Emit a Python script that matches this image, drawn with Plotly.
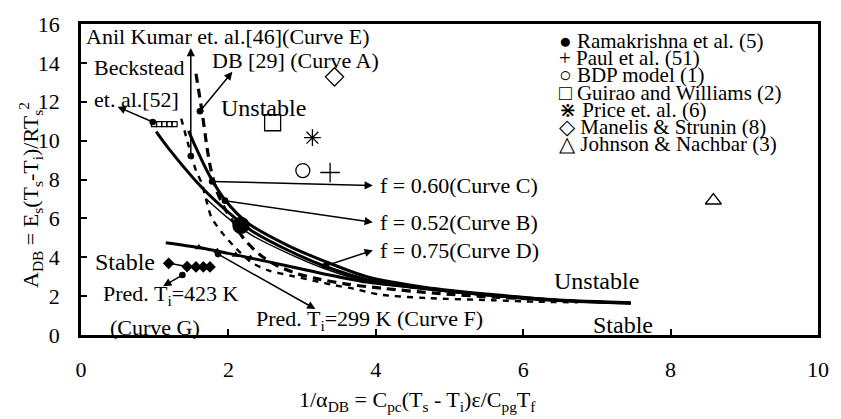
import plotly.graph_objects as go

# ---------------- data ----------------
# Curve A : DB [29] (thick dashed)
curve_a_x = [1.56, 1.64, 1.71, 1.76, 1.84, 1.95, 2.07, 2.20, 2.42, 2.67, 2.94, 3.20, 3.60, 4.10, 4.80, 5.60, 6.40]
curve_a_y = [13.44, 11.54, 9.64, 8.56, 7.44, 6.51, 5.79, 5.00, 4.15, 3.55, 3.15, 2.90, 2.62, 2.40, 2.15, 1.95, 1.80]
# Curve E : Anil Kumar et al. [46] (dashed)
curve_e_x = [1.36, 1.46, 1.56, 1.64, 1.69, 1.77, 1.91, 2.09, 2.31, 2.54, 2.85, 3.15, 3.44, 3.70, 4.05, 4.70, 5.58, 6.20, 6.74]
curve_e_y = [11.13, 9.74, 8.46, 7.79, 7.08, 6.05, 5.28, 4.51, 3.74, 3.33, 3.05, 2.80, 2.56, 2.38, 2.08, 1.90, 1.79, 1.71, 1.68]
# Curve C : f = 0.60
curve_c_x = [1.46, 1.54, 1.73, 1.96, 2.27, 2.81, 3.30, 3.88, 4.68, 5.58, 6.47, 7.46]
curve_c_y = [10.50, 9.80, 8.30, 6.92, 5.74, 4.60, 3.80, 3.00, 2.45, 2.08, 1.80, 1.66]
# Curve B : f = 0.52
curve_b_x = [1.02, 1.19, 1.64, 2.00, 2.31, 2.81, 3.30, 3.88, 4.68, 5.58, 6.47, 7.46]
curve_b_y = [10.46, 9.59, 7.59, 6.31, 5.38, 4.36, 3.55, 2.85, 2.41, 2.05, 1.79, 1.64]
# Curve D : f = 0.75
curve_d_x = [1.70, 2.00, 2.31, 2.81, 3.30, 3.88, 4.68, 5.58, 6.47, 7.46]
curve_d_y = [7.00, 6.00, 5.15, 4.20, 3.42, 2.75, 2.35, 2.00, 1.76, 1.62]
# Curve F : Pred. Ti = 299 K
curve_f_x = [1.15, 1.60, 2.00, 2.50, 3.07, 3.88, 4.68, 5.58, 6.47, 7.46]
curve_f_y = [4.75, 4.50, 4.20, 3.80, 3.33, 2.72, 2.38, 2.03, 1.77, 1.63]
curve_f_mark_x = [1.60, 1.85, 2.10, 2.30]
curve_f_mark_y = [4.50, 4.31, 4.12, 3.96]
# Curve G : Pred. Ti = 423 K
curve_g_x = [1.19, 1.44, 1.56, 1.66, 1.75]
curve_g_y = [3.69, 3.52, 3.50, 3.50, 3.50]
# Beckstead et al. [52]
beckstead_x = [0.99, 1.06, 1.13, 1.20, 1.27]
beckstead_y = [10.85, 10.85, 10.85, 10.85, 10.85]

# experimental / model points
ramakrishna_x, ramakrishna_y = [2.17], [5.64]
paul_x, paul_y = [3.38], [8.36]
bdp_x, bdp_y = [3.01], [8.46]
guirao_x, guirao_y = [2.60], [10.92]
price_x, price_y = [3.14], [10.15]
manelis_x, manelis_y = [3.44], [13.28]
johnson_x, johnson_y = [8.58], [6.92]

legend_labels = ["Ramakrishna et al. (5)", "Paul et al. (51)", "BDP model (1)",
                 "Guirao and Williams (2)", "Price et. al. (6)", "Manelis & Strunin (8)",
                 "Johnson & Nachbar (3)"]
legend_glyphs = ["●", "+", "○", "□", "⋇", "◇", "△"]

x_ticks = [0, 2, 4, 6, 8, 10]
y_ticks = [0, 2, 4, 6, 8, 10, 12, 14, 16]

# ---------------- figure ----------------
FONT = "Liberation Serif"
BLACK = "#000000"
L, R, T, B = 81, 15, 23, 84
W, H = 841, 419
XR, YR = (0, 10), (0, 16)
PW, PH = W - L - R, H - T - B


def px2x(px):
    return XR[0] + (px - L) / PW * (XR[1] - XR[0])


def px2y(py):
    return YR[0] + (T + PH - py) / PH * (YR[1] - YR[0])


fig = go.Figure()


def line_trace(x, y, width, dash="solid", shape="spline"):
    fig.add_trace(go.Scatter(x=x, y=y, mode="lines", showlegend=False, hoverinfo="skip",
                             line=dict(color=BLACK, width=width, dash=dash, shape=shape,
                                       smoothing=0.8)))


line_trace(curve_a_x, curve_a_y, 3.2, dash="9px,6px")
line_trace(curve_e_x, curve_e_y, 2.4, dash="6px,6px")
line_trace(curve_c_x, curve_c_y, 3.0)
line_trace(curve_b_x, curve_b_y, 3.0)
line_trace(curve_d_x, curve_d_y, 1.4)
line_trace(curve_f_x, curve_f_y, 3.0)

fig.add_trace(go.Scatter(x=curve_f_mark_x, y=curve_f_mark_y, mode="markers", showlegend=False,
                         marker=dict(symbol="triangle-up", size=7, color=BLACK)))
fig.add_trace(go.Scatter(x=curve_g_x, y=curve_g_y, mode="lines+markers", showlegend=False,
                         line=dict(color=BLACK, width=1.5),
                         marker=dict(symbol="diamond", size=9, color=BLACK)))
fig.add_trace(go.Scatter(x=beckstead_x, y=beckstead_y, mode="markers", showlegend=False,
                         marker=dict(symbol="square-open", size=5, color=BLACK,
                                     line=dict(width=1.2, color=BLACK))))


def point_trace(x, y, name, symbol, size):
    fig.add_trace(go.Scatter(x=x, y=y, mode="markers", name=name, showlegend=False,
                             marker=dict(symbol=symbol, size=size, color=BLACK,
                                         line=dict(width=1.3, color=BLACK))))


point_trace(ramakrishna_x, ramakrishna_y, legend_labels[0], "circle", 16)
point_trace(paul_x, paul_y, legend_labels[1], "cross-thin-open", 14)
point_trace(bdp_x, bdp_y, legend_labels[2], "circle-open", 14)
point_trace(guirao_x, guirao_y, legend_labels[3], "square-open", 16)
point_trace(price_x, price_y, legend_labels[4], "asterisk-open", 14)
point_trace(manelis_x, manelis_y, legend_labels[5], "diamond-open", 14)
point_trace(johnson_x, johnson_y, legend_labels[6], "triangle-up-open", 14)

annotations = []


def label(text, px, py, size=22, anchor="left"):
    annotations.append(dict(x=px2x(px), y=px2y(py), xref="x", yref="y", text=text,
                            showarrow=False, xanchor=anchor, yanchor="middle",
                            font=dict(family=FONT, size=size, color=BLACK)))


label("Anil Kumar et. al.[46](Curve E)", 84, 36)
label("DB [29] (Curve A)", 211, 60)
label("Beckstead", 92, 67)
label("et. al.[52]", 92, 99)
label("Unstable", 220, 107, size=24)
label("f = 0.60(Curve C)", 381, 185)
label("f = 0.52(Curve B)", 381, 222)
label("f = 0.75(Curve D)", 381, 250)
label("Stable", 93, 262, size=24)
label("Pred. T<sub>i</sub>=423 K", 101, 295)
label("(Curve G)", 108, 327)
label("Pred. T<sub>i</sub>=299 K (Curve F)", 256, 320)
label("Unstable", 557, 281, size=24)
label("Stable", 597, 325, size=24)

# legend block (text glyph + label)
for i, (g, t) in enumerate(zip(legend_glyphs, legend_labels)):
    annotations.append(dict(x=px2x(562), y=px2y(40 + 17.3 * i), xref="x", yref="y",
                            text=g + " " + t, showarrow=False, xanchor="left",
                            yanchor="middle",
                            font=dict(family=FONT, size=21, color=BLACK)))


def arrow(tail_px, head_px, start_head=6):
    annotations.append(dict(x=px2x(head_px[0]), y=px2y(head_px[1]),
                            ax=px2x(tail_px[0]), ay=px2y(tail_px[1]),
                            xref="x", yref="y", axref="x", ayref="y", text="",
                            showarrow=True, arrowhead=2, arrowsize=1.1, arrowwidth=1.5,
                            arrowcolor=BLACK, arrowside="end+start",
                            startarrowhead=start_head, startarrowsize=1.1,
                            standoff=0, startstandoff=0))


arrow((192, 157), (192, 47))      # Anil Kumar (Curve E)
arrow((200, 112), (234, 71))      # DB (Curve A)
arrow((155, 122), (118, 106))     # Beckstead
arrow((212, 181), (376, 185))     # f = 0.60
arrow((225, 200), (376, 222))     # f = 0.52
arrow((327, 266), (376, 250))     # f = 0.75
arrow((218, 253), (318, 309))     # Curve F
arrow((185, 274), (164, 286))     # Curve G

# axis titles
annotations.append(dict(x=(30 - L) / PW, y=(T + PH - 195) / PH, xref="paper", yref="paper",
                        text="A<sub>DB</sub> = E<sub>s</sub>(T<sub>s</sub>-T<sub>i</sub>)/RT<sub>s</sub><sup>2</sup>",
                        textangle=-90, showarrow=False, xanchor="center", yanchor="middle",
                        font=dict(family=FONT, size=22, color=BLACK)))
annotations.append(dict(x=(421 - L) / PW, y=(T + PH - 401) / PH, xref="paper", yref="paper",
                        text="1/α<sub>DB</sub> = C<sub>pc</sub>(T<sub>s</sub> - T<sub>i</sub>)ε/C<sub>pg</sub>T<sub>f</sub>",
                        showarrow=False, xanchor="center", yanchor="middle",
                        font=dict(family=FONT, size=22, color=BLACK)))

axis_common = dict(showline=True, linecolor=BLACK, linewidth=2.6, mirror=True,
                   showgrid=False, zeroline=False, ticks="inside", ticklen=6, tickwidth=2,
                   tickcolor=BLACK, tickfont=dict(family=FONT, size=22, color=BLACK))

fig.update_layout(
    width=W, height=H,
    margin=dict(l=L, r=R, t=T, b=B, pad=0),
    paper_bgcolor="white", plot_bgcolor="white",
    font=dict(family=FONT, color=BLACK),
    showlegend=False,
    xaxis=dict(range=list(XR), tickvals=x_ticks, ticktext=[str(v) for v in x_ticks],
               ticklabelstandoff=13, **axis_common),
    yaxis=dict(range=list(YR), tickvals=y_ticks, ticktext=[str(v) for v in y_ticks],
               ticklabelstandoff=14, **axis_common),
    annotations=annotations,
)

fig.write_html("out.html")
